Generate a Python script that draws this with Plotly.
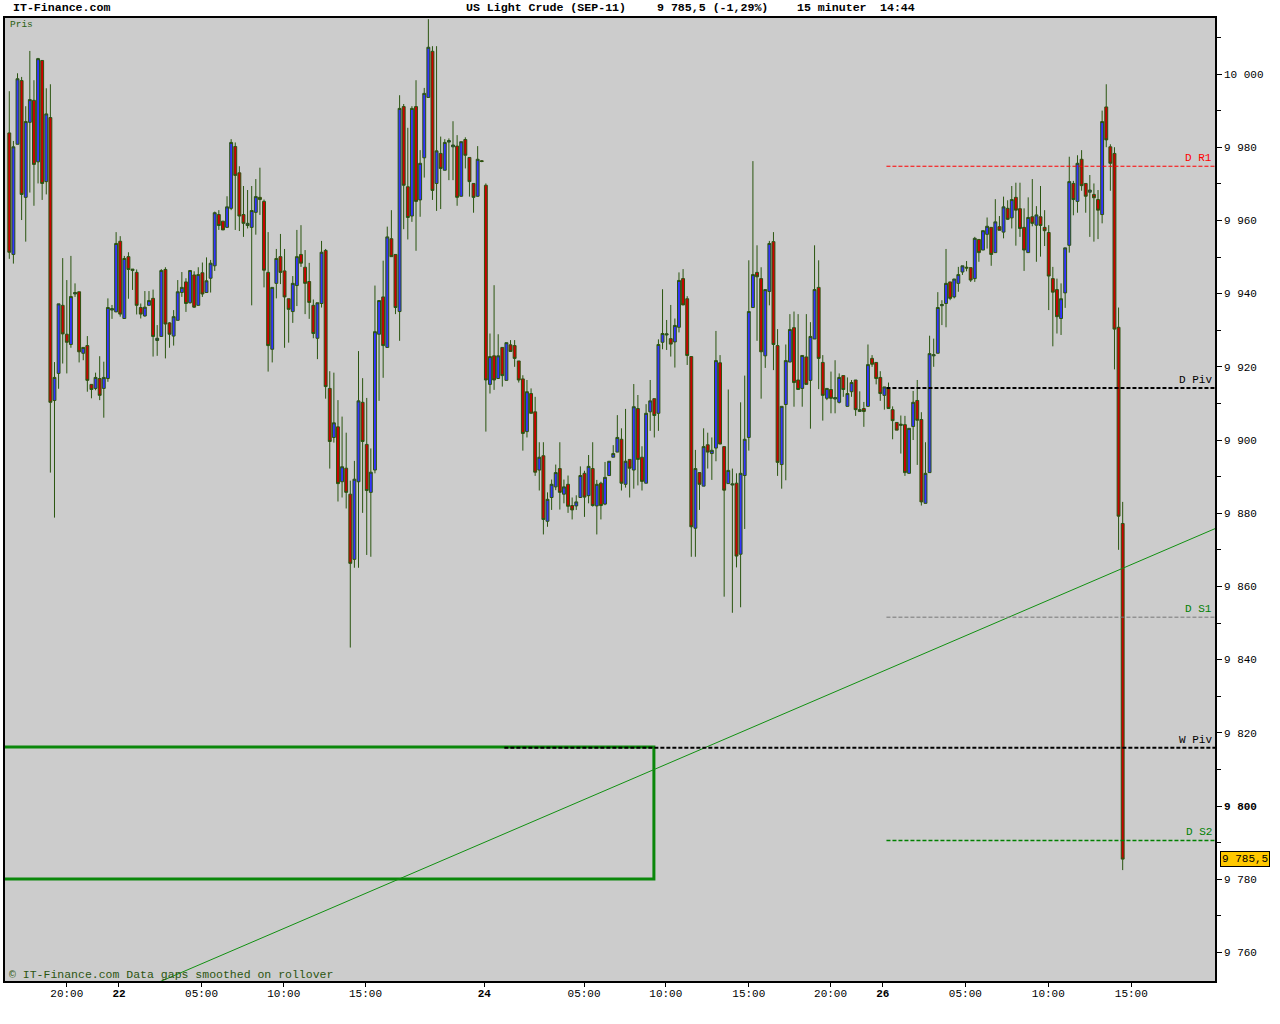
import plotly.graph_objects as go

# ---------------- data (15-minute candles, US Light Crude SEP-11) ----------------
opens = [
 9983.9, 9950.7, 9980.8, 9998.2, 9966.3, 9986.8, 9992.8, 9976.0, 10003.7, 9970.6,
 9988.1, 9910.8, 9918.2, 9936.8, 9928.9, 9926.1, 9939.9, 9940.5, 9923.7, 9925.8,
 9915.2, 9914.1, 9916.8, 9914.1, 9916.8, 9935.5, 9935.0, 9954.3, 9933.2, 9950.1,
 9946.3, 9945.8, 9936.2, 9933.9, 9936.8, 9938.7, 9927.2, 9928.3, 9946.6, 9932.0,
 9928.4, 9932.7, 9940.3, 9943.2, 9937.5, 9945.1, 9936.8, 9945.7, 9940.3, 9944.2,
 9947.6, 9961.6, 9959.8, 9958.1, 9963.3, 9980.2, 9973.0, 9961.6, 9958.6, 9958.1,
 9962.2, 9966.3, 9965.2, 9945.8, 9924.8, 9942.8, 9950.1, 9946.2, 9938.6, 9935.1,
 9942.2, 9950.7, 9947.2, 9943.3, 9936.8, 9927.8, 9937.3, 9951.8, 9914.1, 9900.7,
 9903.6, 9888.6, 9892.3, 9885.2, 9867.4, 9888.6, 9910.3, 9898.8, 9885.7, 9891.8,
 9928.9, 9939.1, 9925.3, 9955.0, 9950.7, 9935.1, 9991.1, 9969.2, 9961.2, 9991.1,
 9965.6, 9977.1, 9993.6, 10006.2, 9970.1, 9978.3, 9973.7, 9981.4, 9980.1, 9980.3,
 9966.6, 9982.1, 9977.2, 9970.1, 9966.6, 9976.3, 9969.6, 9915.2, 9923.0, 9916.8,
 9925.3, 9916.3, 9926.0, 9925.8, 9921.6, 9916.7, 9902.3, 9912.7, 9907.7, 9891.8,
 9895.7, 9877.8, 9884.3, 9887.2, 9892.2, 9885.2, 9887.9, 9882.1, 9882.0, 9884.3,
 9890.9, 9884.8, 9892.2, 9882.0, 9888.2, 9882.5, 9890.3, 9895.3, 9896.7, 9900.2,
 9887.9, 9894.7, 9891.8, 9908.6, 9895.3, 9888.2, 9907.7, 9911.3, 9907.3, 9926.7,
 9928.7, 9927.7, 9926.8, 9930.8, 9944.1, 9938.6, 9922.8, 9875.9, 9891.1, 9887.4,
 9898.7, 9896.3, 9897.8, 9921.1, 9898.2, 9888.1, 9887.7, 9888.2, 9868.8, 9890.3,
 9900.7, 9936.2, 9945.8, 9944.1, 9923.0, 9940.6, 9954.2, 9925.8, 9893.3, 9909.7,
 9921.3, 9930.7, 9916.4, 9914.1, 9922.7, 9916.3, 9927.6, 9941.7, 9921.2, 9911.4,
 9913.8, 9911.2, 9910.3, 9917.6, 9909.2, 9913.2, 9916.4, 9907.8, 9908.6, 9909.2,
 9922.3, 9921.2, 9917.1, 9912.2, 9914.0, 9908.3, 9904.8, 9904.0, 9904.2, 9890.9,
 9903.7, 9910.8, 9905.6, 9882.7, 9891.1, 9923.0, 9923.7, 9936.7, 9937.3, 9943.2,
 9939.1, 9942.8, 9945.9, 9947.2, 9947.1, 9944.1, 9954.8, 9951.9, 9956.2, 9958.1,
 9951.2, 9958.3, 9956.8, 9963.3, 9960.7, 9966.3, 9963.2, 9958.1, 9951.2, 9961.0,
 9958.7, 9961.0, 9958.1, 9956.7, 9944.1, 9941.1, 9933.2, 9940.2, 9953.2, 9970.1,
 9965.2, 9976.7, 9970.1, 9967.7, 9967.1, 9965.7, 9961.6, 9991.0, 9980.1, 9978.3,
 9930.8, 9877.2]
highs = [
 9995.3, 9981.7, 10000.2, 9999.2, 9991.2, 10006.3, 9998.3, 10004.4, 10003.7, 9996.1,
 9997.2, 9921.3, 9937.2, 9949.7, 9943.7, 9950.3, 9942.8, 9940.5, 9925.3, 9928.4,
 9915.2, 9918.4, 9922.9, 9921.4, 9938.7, 9936.9, 9956.8, 9955.7, 9950.3, 9951.3,
 9946.7, 9946.6, 9937.3, 9940.7, 9940.7, 9941.1, 9931.4, 9946.7, 9947.2, 9932.2,
 9935.5, 9943.7, 9945.9, 9944.2, 9946.4, 9946.1, 9947.2, 9948.5, 9949.9, 9949.2,
 9962.4, 9962.8, 9959.8, 9966.6, 9982.2, 9981.3, 9974.8, 9969.4, 9968.3, 9969.4,
 9971.3, 9974.4, 9965.7, 9956.8, 9941.7, 9952.2, 9956.3, 9952.2, 9938.6, 9944.8,
 9957.4, 9958.7, 9951.9, 9948.4, 9938.4, 9937.5, 9954.4, 9952.2, 9918.8, 9918.4,
 9910.9, 9906.4, 9902.0, 9888.9, 9894.3, 9924.3, 9916.9, 9911.5, 9897.7, 9942.2,
 9938.1, 9949.0, 9958.3, 9962.8, 9950.7, 9994.2, 9991.8, 9985.3, 9991.2, 9998.3,
 9979.2, 9996.2, 10015.0, 10007.6, 10007.6, 9982.9, 9982.2, 9982.4, 9987.1, 9983.3,
 9981.5, 9982.7, 9977.2, 9970.1, 9980.3, 9976.5, 9970.1, 9929.1, 9942.3, 9928.9,
 9925.3, 9926.6, 9927.3, 9927.3, 9921.6, 9917.7, 9916.4, 9914.1, 9911.8, 9899.4,
 9899.4, 9885.7, 9889.2, 9893.3, 9899.4, 9889.2, 9890.3, 9884.3, 9884.9, 9892.8,
 9891.6, 9895.9, 9899.4, 9889.1, 9888.6, 9894.0, 9894.2, 9898.6, 9906.8, 9903.2,
 9908.5, 9894.7, 9915.3, 9912.3, 9898.3, 9909.8, 9916.4, 9911.3, 9927.5, 9941.2,
 9932.8, 9936.9, 9933.2, 9945.8, 9946.7, 9939.3, 9922.8, 9897.3, 9891.1, 9903.2,
 9902.0, 9900.7, 9929.8, 9923.2, 9898.2, 9913.8, 9892.2, 9890.9, 9910.3, 9917.6,
 9949.1, 9976.2, 9953.2, 9947.2, 9941.1, 9954.4, 9956.8, 9930.3, 9909.2, 9926.1,
 9934.4, 9935.1, 9934.4, 9923.1, 9934.4, 9932.2, 9953.2, 9949.1, 9923.2, 9914.1,
 9918.7, 9921.8, 9918.2, 9917.6, 9917.1, 9916.4, 9916.4, 9913.3, 9910.4, 9926.1,
 9923.2, 9921.2, 9918.8, 9914.5, 9915.7, 9909.2, 9904.8, 9906.7, 9906.6, 9903.2,
 9913.4, 9916.4, 9907.6, 9899.4, 9928.5, 9927.7, 9940.4, 9938.2, 9952.2, 9943.2,
 9944.0, 9947.3, 9947.6, 9948.9, 9947.1, 9955.5, 9954.8, 9957.2, 9960.8, 9958.1,
 9965.8, 9961.2, 9966.5, 9965.5, 9969.4, 9970.3, 9970.3, 9963.3, 9966.3, 9971.3,
 9963.9, 9969.4, 9962.8, 9958.7, 9947.3, 9944.1, 9942.8, 9952.5, 9977.4, 9970.8,
 9977.8, 9979.2, 9970.1, 9972.4, 9970.1, 9968.3, 9990.0, 9997.2, 9980.8, 9980.0,
 9936.2, 9883.1]
lows = [
 9949.5, 9948.2, 9980.8, 9960.1, 9954.2, 9967.6, 9964.0, 9970.1, 9965.6, 9967.1,
 9891.1, 9878.8, 9914.0, 9920.9, 9918.2, 9925.2, 9939.1, 9921.2, 9921.8, 9913.2,
 9911.4, 9913.6, 9910.9, 9906.1, 9915.9, 9933.1, 9935.0, 9933.7, 9933.2, 9938.6,
 9941.0, 9934.3, 9933.2, 9933.7, 9936.8, 9922.8, 9923.0, 9928.3, 9922.3, 9925.2,
 9925.8, 9932.7, 9939.1, 9935.0, 9937.3, 9936.1, 9936.8, 9939.1, 9940.3, 9940.3,
 9946.2, 9957.4, 9957.4, 9958.1, 9962.8, 9957.4, 9957.1, 9955.5, 9957.8, 9936.8,
 9956.1, 9961.5, 9941.7, 9918.7, 9921.2, 9938.7, 9942.6, 9925.2, 9926.6, 9932.0,
 9936.6, 9947.3, 9934.4, 9933.1, 9927.8, 9922.1, 9936.2, 9911.3, 9892.2, 9899.3,
 9883.2, 9884.3, 9881.3, 9843.3, 9865.1, 9865.1, 9880.1, 9868.6, 9868.1, 9890.9,
 9910.7, 9917.0, 9925.3, 9950.1, 9934.4, 9927.1, 9957.6, 9954.8, 9959.6, 9951.7,
 9961.0, 9971.7, 9993.6, 9965.6, 9962.6, 9963.1, 9973.7, 9971.0, 9971.0, 9964.0,
 9966.5, 9974.2, 9966.5, 9962.1, 9966.5, 9975.9, 9902.3, 9912.7, 9913.7, 9916.8,
 9914.6, 9916.3, 9924.2, 9920.0, 9915.7, 9897.1, 9900.7, 9907.3, 9890.2, 9886.2,
 9874.2, 9876.3, 9880.9, 9886.3, 9881.0, 9882.7, 9880.1, 9878.3, 9880.9, 9884.3,
 9879.0, 9882.7, 9881.8, 9874.2, 9878.3, 9882.2, 9890.3, 9895.3, 9896.7, 9886.2,
 9887.0, 9884.3, 9886.7, 9887.6, 9886.2, 9888.2, 9902.5, 9900.7, 9902.5, 9924.8,
 9924.6, 9922.8, 9919.8, 9929.4, 9936.9, 9920.5, 9868.1, 9868.1, 9880.9, 9887.4,
 9892.2, 9889.1, 9894.2, 9898.9, 9857.2, 9888.1, 9852.8, 9865.2, 9854.3, 9875.7,
 9897.1, 9936.2, 9927.1, 9911.3, 9919.7, 9936.8, 9919.1, 9890.2, 9886.7, 9889.0,
 9921.3, 9909.1, 9913.8, 9909.1, 9915.2, 9903.1, 9927.6, 9913.9, 9905.3, 9910.9,
 9907.3, 9907.3, 9910.0, 9911.8, 9909.2, 9911.8, 9906.6, 9907.8, 9903.6, 9909.2,
 9920.0, 9915.2, 9910.7, 9908.3, 9908.5, 9900.2, 9902.7, 9896.3, 9890.2, 9890.9,
 9900.0, 9893.2, 9882.1, 9882.7, 9891.1, 9920.0, 9923.7, 9931.4, 9930.8, 9938.2,
 9938.7, 9940.5, 9945.1, 9946.1, 9943.2, 9943.2, 9948.7, 9951.9, 9952.3, 9947.6,
 9951.2, 9957.3, 9955.1, 9960.1, 9957.8, 9953.1, 9955.5, 9946.2, 9951.2, 9958.4,
 9948.7, 9950.1, 9953.0, 9935.5, 9925.6, 9929.1, 9928.7, 9936.1, 9951.2, 9961.4,
 9962.1, 9968.1, 9962.1, 9955.5, 9954.2, 9954.9, 9959.2, 9980.0, 9968.1, 9919.3,
 9870.0, 9782.5]
closes = [
 9951.3, 9980.1, 9998.7, 9967.1, 9987.0, 9993.0, 9975.3, 10004.2, 9970.1, 9989.1,
 9910.3, 9917.1, 9937.2, 9929.0, 9926.7, 9939.2, 9940.3, 9924.1, 9925.3, 9916.3,
 9913.8, 9917.1, 9912.2, 9917.1, 9936.2, 9935.9, 9953.7, 9934.4, 9949.6, 9946.6,
 9946.7, 9936.8, 9934.4, 9936.3, 9938.1, 9928.3, 9927.8, 9946.3, 9931.7, 9928.9,
 9933.7, 9940.5, 9941.7, 9937.3, 9946.3, 9936.3, 9945.2, 9939.9, 9943.5, 9948.3,
 9962.1, 9958.6, 9957.4, 9963.7, 9981.3, 9972.3, 9961.2, 9959.2, 9959.2, 9962.7,
 9966.5, 9965.7, 9946.4, 9925.8, 9941.7, 9949.6, 9945.8, 9939.1, 9935.7, 9942.8,
 9950.1, 9948.3, 9942.8, 9937.6, 9929.1, 9937.5, 9951.3, 9914.6, 9899.6, 9904.7,
 9888.1, 9892.7, 9885.7, 9866.3, 9889.3, 9910.7, 9899.6, 9886.2, 9891.2, 9929.6,
 9938.1, 9925.8, 9955.5, 9950.1, 9936.2, 9990.6, 9969.6, 9960.8, 9990.6, 9965.2,
 9975.6, 9994.7, 10007.3, 9968.2, 9979.0, 9974.2, 9981.3, 9981.8, 9980.6, 9966.3,
 9981.5, 9977.8, 9970.6, 9966.3, 9976.7, 9976.1, 9916.4, 9922.8, 9916.4, 9923.0,
 9917.6, 9926.6, 9924.2, 9922.3, 9916.4, 9901.8, 9913.2, 9907.3, 9891.2, 9895.3,
 9878.3, 9883.8, 9887.9, 9891.1, 9885.7, 9887.2, 9881.9, 9880.9, 9883.1, 9890.3,
 9884.4, 9892.8, 9882.1, 9887.9, 9882.1, 9889.8, 9894.2, 9896.3, 9900.7, 9888.2,
 9894.2, 9892.3, 9909.1, 9894.7, 9888.7, 9907.3, 9910.7, 9906.7, 9926.1, 9929.1,
 9929.0, 9926.2, 9931.3, 9943.6, 9936.9, 9923.1, 9876.3, 9892.2, 9887.9, 9898.2,
 9896.7, 9897.2, 9921.7, 9898.9, 9886.3, 9891.7, 9888.0, 9868.3, 9890.9, 9900.2,
 9935.1, 9945.2, 9944.6, 9924.1, 9941.1, 9953.7, 9926.1, 9893.9, 9909.2, 9921.7,
 9930.2, 9915.7, 9913.8, 9923.1, 9915.2, 9928.3, 9941.1, 9922.3, 9912.2, 9914.1,
 9911.4, 9911.6, 9917.1, 9913.8, 9912.7, 9915.7, 9908.3, 9908.3, 9907.8, 9920.6,
 9920.7, 9916.8, 9912.7, 9914.5, 9908.6, 9905.3, 9902.7, 9904.3, 9891.1, 9903.2,
 9910.3, 9905.4, 9883.1, 9890.9, 9923.6, 9923.3, 9936.2, 9937.0, 9942.8, 9938.7,
 9944.0, 9945.2, 9947.6, 9947.0, 9943.7, 9955.1, 9951.2, 9957.2, 9958.4, 9950.7,
 9959.6, 9957.3, 9963.7, 9960.3, 9965.7, 9962.8, 9957.8, 9951.9, 9960.8, 9959.2,
 9961.5, 9958.6, 9957.2, 9944.8, 9940.4, 9933.7, 9938.6, 9952.5, 9970.6, 9965.7,
 9975.6, 9969.5, 9966.6, 9968.3, 9966.2, 9962.8, 9987.0, 9982.0, 9975.6, 9930.3,
 9879.2, 9785.5]

x_idx = list(range(len(opens)))

# time axis labels (positions in candle index units)
x_tick_pos = [14.0, 26.7, 46.8, 66.8, 86.7, 115.6, 139.9, 159.8, 180.0, 199.9, 212.6, 232.7, 252.9, 273.1]
x_tick_text = ["20:00", "<b>22</b>", "05:00", "10:00", "15:00", "<b>24</b>", "05:00", "10:00",
               "15:00", "20:00", "<b>26</b>", "05:00", "10:00", "15:00"]

y_tick_vals = [9760, 9780, 9800, 9820, 9840, 9860, 9880, 9900, 9920, 9940, 9960, 9980, 10000]
y_tick_text = [("<b>%s</b>" if v == 9800 else "%s") % f"{v:,}".replace(",", " ") for v in y_tick_vals]

# pivot levels
pivot_names = ["D R1", "D Piv", "D S1", "W Piv", "D S2"]
pivot_values = [9974.8, 9914.2, 9851.6, 9815.9, 9790.6]
pivot_start = [213.5, 213.5, 213.5, 120.5, 213.5]
pivot_line_colors = ["#FF0000", "#000000", "#777777", "#000000", "#008000"]
pivot_widths = [1, 2, 1, 2, 1.5]
pivot_label_colors = ["#FF0000", "#000000", "#008000", "#000000", "#008000"]

box_x = [-3.0, 156.9]
box_y = [9780.1, 9816.1]

trend_x = [30.0, 293.5]
trend_y = [9748.8, 9875.8]

last_price = 9785.5

X_RANGE = [-1.045, 293.47]
Y_RANGE = [9752.2, 10015.3]

FONT = "Liberation Mono"
WICK = "#2B5510"

fig = go.Figure()
fig.add_trace(go.Candlestick(
    x=x_idx, open=opens, high=highs, low=lows, close=closes,
    increasing=dict(fillcolor="#3333FF", line=dict(color=WICK, width=1)),
    decreasing=dict(fillcolor="#CC0000", line=dict(color=WICK, width=1)),
    whiskerwidth=0, showlegend=False, hoverinfo="skip",
))

shapes = []
shapes.append(dict(type="rect", xref="x", yref="y", x0=box_x[0], x1=box_x[1], y0=box_y[0], y1=box_y[1],
                   line=dict(color="#0A870A", width=3), fillcolor="rgba(0,0,0,0)", layer="above"))
shapes.append(dict(type="line", xref="x", yref="y", x0=trend_x[0], x1=trend_x[1], y0=trend_y[0], y1=trend_y[1],
                   line=dict(color="#119011", width=1), layer="above"))
annotations = []
for name, val, xs, col, w, lc in zip(pivot_names, pivot_values, pivot_start, pivot_line_colors,
                                     pivot_widths, pivot_label_colors):
    shapes.append(dict(type="line", xref="x", yref="y", x0=xs, x1=X_RANGE[1], y0=val, y1=val,
                       line=dict(color=col, width=w, dash="4px,2px"), layer="above"))
    annotations.append(dict(x=1, xref="paper", y=val, yref="y", text=name, showarrow=False,
                            xanchor="right", yanchor="bottom", xshift=-1, yshift=0,
                            font=dict(family=FONT, size=11, color=lc)))


def px_x(p):
    return (p - 3) / 1212.0


def px_y(p):
    return (981 - p) / 963.0


header = [("IT-Finance.com", 9), ("US Light Crude (SEP-11)", 463), ("9 785,5 (-1,29%)", 654),
          ("15 minuter", 794), ("14:44", 877)]
for txt, xp in header:
    annotations.append(dict(x=px_x(xp), y=px_y(8), xref="paper", yref="paper", text="<b>%s</b>" % txt,
                            showarrow=False, xanchor="left", yanchor="middle",
                            font=dict(family=FONT, size=11.6, color="#000000")))
annotations.append(dict(x=px_x(6), y=px_y(24), xref="paper", yref="paper", text="Pris", showarrow=False,
                        xanchor="left", yanchor="middle", font=dict(family=FONT, size=9.5, color="#2B6010")))
annotations.append(dict(x=px_x(5), y=px_y(974), xref="paper", yref="paper",
                        text="© IT-Finance.com Data gaps smoothed on rollover", showarrow=False,
                        xanchor="left", yanchor="middle", font=dict(family=FONT, size=11.5, color="#2B5510")))
annotations.append(dict(x=1, xref="paper", y=last_price, yref="y", text="9 785,5", showarrow=False,
                        xanchor="left", yanchor="middle", xshift=5, bgcolor="#FFC800",
                        bordercolor="#000000", borderwidth=1, borderpad=1,
                        font=dict(family=FONT, size=11, color="#000000")))

fig.update_layout(
    width=1280, height=1024,
    margin=dict(l=3, r=65, t=18, b=43),
    paper_bgcolor="#FFFFFF", plot_bgcolor="#CCCCCC",
    boxgap=0.0,
    shapes=shapes, annotations=annotations,
    font=dict(family=FONT, size=11, color="#000000"),
    xaxis=dict(range=X_RANGE, rangeslider=dict(visible=False), showgrid=False, zeroline=False,
               tickmode="array", tickvals=x_tick_pos, ticktext=x_tick_text,
               ticks="outside", ticklen=4, tickcolor="#000000", ticklabelstandoff=-3,
               showline=True, linecolor="#000000", linewidth=1.5, mirror=True,
               tickfont=dict(family=FONT, size=11, color="#000000")),
    yaxis=dict(range=Y_RANGE, side="right", showgrid=False, zeroline=False,
               tickmode="array", tickvals=y_tick_vals, ticktext=y_tick_text,
               ticks="outside", ticklen=5, tickcolor="#000000",
               minor=dict(tickmode="linear", tick0=9750, dtick=10, ticks="outside", ticklen=4,
                          tickcolor="#000000"),
               showline=True, linecolor="#000000", linewidth=1.5, mirror=True,
               tickfont=dict(family=FONT, size=11, color="#000000")),
    hovermode=False,
)

fig.write_html("out.html", config={"displayModeBar": False},
               post_script="document.body.style.margin='0';document.body.style.padding='0';")
